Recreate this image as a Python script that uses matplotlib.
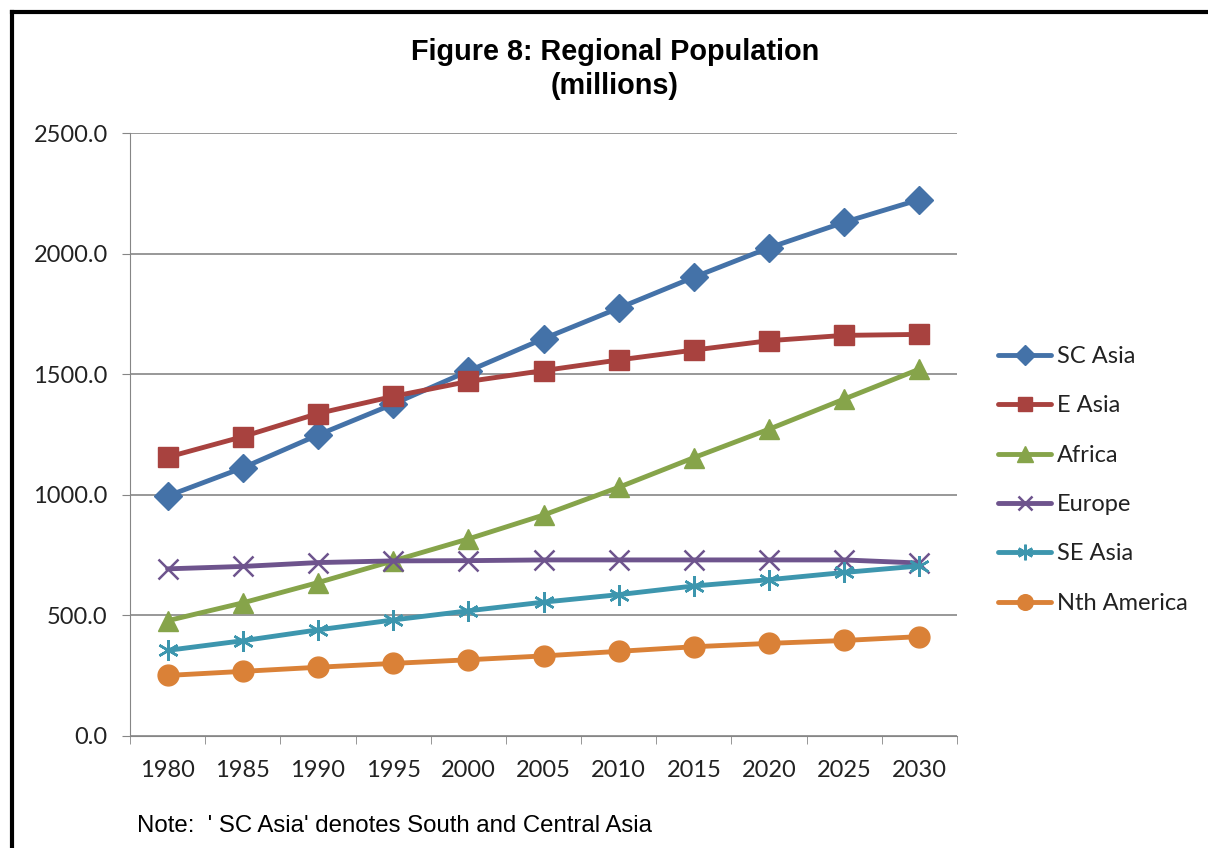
import matplotlib.pyplot as plt
from matplotlib.lines import Line2D

years = ['1980', '1985', '1990', '1995', '2000', '2005', '2010', '2015', '2020', '2025', '2030']
sc_asia = [995, 1112, 1248, 1376, 1513, 1647, 1774, 1902, 2024, 2130, 2224]
e_asia = [1156, 1241, 1337, 1408, 1470, 1515, 1559, 1600, 1639, 1661, 1665]
africa = [478, 552, 636, 726, 817, 916, 1031, 1154, 1272, 1397, 1521]
europe = [693, 703, 719, 726, 727, 730, 730, 730, 730, 730, 717]
se_asia = [355, 395, 440, 481, 519, 555, 586, 622, 648, 678, 705]
nth_america = [251, 268, 285, 301, 316, 332, 351, 370, 384, 396, 412]

series = [
    ('SC Asia', sc_asia, '#4472A8', 'D', 14),
    ('E Asia', e_asia, '#A8423F', 's', 14),
    ('Africa', africa, '#86A44A', '^', 15),
    ('Europe', europe, '#6E548D', 'x', 14),
    ('SE Asia', se_asia, '#3D96AE', (6, 2, 0), 15),
    ('Nth America', nth_america, '#DA8137', 'o', 15),
]

plt.rcParams['font.family'] = ['Lato', 'DejaVu Sans']

fig = plt.figure(figsize=(12.08, 8.48), dpi=100)
ax = fig.add_axes([130 / 1208, 1 - 736 / 848, 827 / 1208, 603 / 848])

x = list(range(len(years)))
for name, vals, color, marker, ms in series:
    if marker in ('x', (6, 2, 0)):
        ax.plot(x, vals, color=color, lw=3.5, marker=marker, ms=ms,
                mew=1.8, label=name, solid_capstyle='round')
    else:
        ax.plot(x, vals, color=color, lw=3.5, marker=marker, ms=ms,
                mec=color, label=name, solid_capstyle='round')

ax.set_xlim(-0.5, len(years) - 0.5)
ax.set_ylim(0, 2500)
yt = [0, 500, 1000, 1500, 2000, 2500]
ax.set_yticks(yt)
ax.set_yticklabels(['%.1f' % v for v in yt])
ax.set_xticks(x)
ax.set_xticklabels(years)
ax.set_xticks([i - 0.5 for i in range(len(years) + 1)], minor=True)
ax.tick_params(axis='x', which='major', length=0, pad=17, labelsize=17, colors='#222222')
ax.tick_params(axis='x', which='minor', length=6, color='#868686', direction='out')
ax.tick_params(axis='y', length=6, color='#868686', direction='out', pad=10,
               labelsize=17, labelcolor='#222222')
ax.grid(axis='y', color='#868686', lw=1.2)
ax.set_axisbelow(True)
for s in ['top', 'right']:
    ax.spines[s].set_visible(False)
ax.spines['left'].set_color('#868686')
ax.spines['bottom'].set_color('#868686')

fig.text(615 / 1208, 1 - 52 / 848, 'Figure 8: Regional Population', ha='center', va='center',
         fontsize=20.8, fontweight='bold', family='Liberation Sans')
fig.text(615 / 1208, 1 - 86 / 848, '(millions)', ha='center', va='center',
         fontsize=20.8, fontweight='bold', family='Liberation Sans')
fig.text(137 / 1208, 1 - 826 / 848, "Note:  ' SC Asia' denotes South and Central Asia",
         ha='left', va='center', fontsize=17.3, family='Liberation Sans')

leg = fig.legend(loc='center left', bbox_to_anchor=(977 / 1208, 1 - 480 / 848), frameon=False,
                 fontsize=17, handlelength=2.25, labelspacing=1.2, handletextpad=0.25,
                 markerscale=0.75)
for t in leg.get_texts():
    t.set_color('#222222')

fig.add_artist(Line2D([12 / 1208, 12 / 1208], [0, 1 - 12 / 848], color='black', lw=3))
fig.add_artist(Line2D([12 / 1208, 1], [1 - 12 / 848, 1 - 12 / 848], color='black', lw=3))

fig.savefig('out.png', dpi=100)
